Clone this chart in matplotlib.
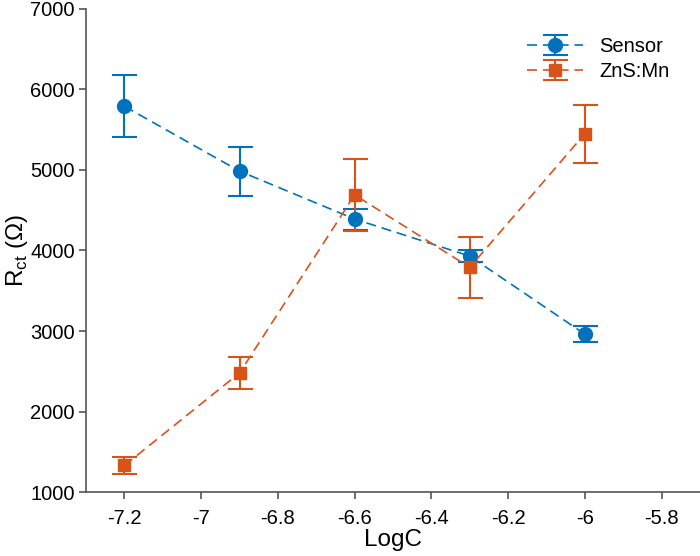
import matplotlib.pyplot as plt

logc = [-7.2, -6.9, -6.6, -6.3, -6.0]
sensor = [5790, 4985, 4390, 3930, 2960]
sensor_err = [385, 305, 130, 75, 100]
znsmn = [1330, 2480, 4690, 3790, 5450]
znsmn_err = [105, 200, 445, 380, 360]

plt.rcParams['font.family'] = ['Liberation Sans', 'DejaVu Sans']
plt.rcParams['font.size'] = 14.5

fig = plt.figure(figsize=(7, 5.56), dpi=100)
ax = fig.add_axes([0.123, 0.115, 0.877, 0.869])

ax.errorbar(logc, sensor, yerr=sensor_err, color='#0072BD', marker='o', markersize=10,
            linestyle=(0, (6, 3.5)), linewidth=1.2, capsize=9, elinewidth=1.5, capthick=1.5,
            label='Sensor')
ax.errorbar(logc, znsmn, yerr=znsmn_err, color='#D95319', marker='s', markersize=9,
            linestyle=(0, (6, 3.5)), linewidth=1.2, capsize=9, elinewidth=1.5, capthick=1.5,
            label='ZnS:Mn')

ax.set_xlim(-7.3, -5.7)
ax.set_ylim(1000, 7000)
ax.set_xticks([-7.2, -7, -6.8, -6.6, -6.4, -6.2, -6, -5.8])
ax.set_xticklabels(['-7.2', '-7', '-6.8', '-6.6', '-6.4', '-6.2', '-6', '-5.8'])
ax.set_yticks(range(1000, 7001, 1000))
ax.set_xlabel('LogC', fontsize=17.5, labelpad=1)
ax.set_ylabel('R$_{\\mathregular{ct}}$ (Ω)', fontsize=17.5, labelpad=0)
ax.spines['top'].set_visible(False)
ax.spines['right'].set_visible(False)
for s in ['left', 'bottom']:
    ax.spines[s].set_linewidth(1.2)
    ax.spines[s].set_color('#555555')
ax.tick_params(direction='out', length=5, width=1.2, color='#555555')
ax.tick_params(axis='x', pad=7)
ax.tick_params(axis='y', pad=3)
ax.legend(loc='upper right', bbox_to_anchor=(0.98, 0.98), frameon=False,
          handlelength=2.8, labelspacing=0.3, fontsize=14.5)

fig.savefig('out.png', dpi=100)
